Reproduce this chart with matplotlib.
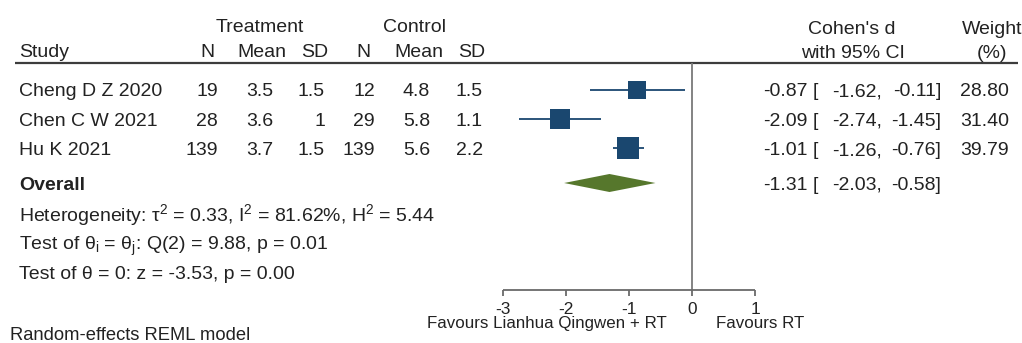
import numpy as np
import matplotlib
matplotlib.use("Agg")
import matplotlib.pyplot as plt
from matplotlib import transforms

# ---- study data ----
studies = ["Cheng D Z 2020", "Chen C W 2021", "Hu K 2021"]
trt_n = [19, 28, 139]
trt_mean = ["3.5", "3.6", "3.7"]
trt_sd = ["1.5", "1", "1.5"]
ctl_n = [12, 29, 139]
ctl_mean = ["4.8", "5.8", "5.6"]
ctl_sd = ["1.5", "1.1", "2.2"]
effect = [-0.87, -2.09, -1.01]
ci_low = [-1.62, -2.74, -1.26]
ci_high = [-0.11, -1.45, -0.76]
weight = [28.80, 31.40, 39.79]

overall_es = -1.31
overall_low = -2.03
overall_high = -0.58

x_ticks = [-3, -2, -1, 0, 1]

het_text = ("Heterogeneity: τ$\\mathregular{^2}$ = 0.33, I$\\mathregular{^2}$ = 81.62%, "
            "H$\\mathregular{^2}$ = 5.44")
q_text = "Test of θ$\\mathregular{_i}$ = θ$\\mathregular{_j}$: Q(2) = 9.88, p = 0.01"
z_text = "Test of θ = 0: z = -3.53, p = 0.00"
model_text = "Random-effects REML model"
fav_left = "Favours Lianhua Qingwen + RT"
fav_right = "Favours RT"

# ---- styling ----
plt.rcParams["font.family"] = ["Liberation Sans", "DejaVu Sans"]
plt.rcParams["mathtext.fontset"] = "custom"
plt.rcParams["mathtext.rm"] = "Liberation Sans"
NAVY = "#1a476f"
GREEN = "#56772c"
TXT = "#222222"
FS = 14.0

W, H = 1022, 343
fig = plt.figure(figsize=(W / 100, H / 100), dpi=100)
ax = fig.add_axes([0, 0, 1, 1])
ax.set_axis_off()

# effect-size scale: 0 sits at 692 px, 63 px per unit
X0, SCALE = 692.0, 63.0
ax.set_xlim((0 - X0) / SCALE, (W - X0) / SCALE)
ax.set_ylim(H, 0)  # y measured downward from the top edge

# x in figure pixels, y in axes data
tr = transforms.blended_transform_factory(
    transforms.Affine2D().scale(1.0 / W, 1.0) + fig.transFigure, ax.transData)

row_y = 89.5 + 29.3 * np.arange(len(studies))
overall_y = 183
header_line_y = 63
axis_y = 290
CAP_HALF = 7  # half the cap height of the body font, in pixels

def txt(px, y, s, ha="left", size=FS, **kw):
    # y is the vertical centre of the capitals; draw on the baseline below it
    ax.text(px, y + CAP_HALF * size / FS, s, transform=tr, ha=ha,
            va="baseline", fontsize=size, color=TXT, **kw)

# ---- header ----
txt(260, 25, "Treatment", ha="center")
txt(415, 25, "Control", ha="center")
txt(19, 50, "Study")
for px, s in [(207, "N"), (262, "Mean"), (315, "SD"),
              (363, "N"), (419, "Mean"), (472, "SD")]:
    txt(px, 50, s, ha="center")
txt(852, 27, "Cohen's d", ha="center")
txt(853, 51, "with 95% CI", ha="center")
txt(992, 27, "Weight", ha="center")
txt(992, 51, "(%)", ha="center")
ax.plot([15, 1018], [header_line_y, header_line_y], transform=tr,
        color="#3c3c3c", lw=1.6, solid_capstyle="butt")

# ---- null line and x axis ----
ax.vlines(0, header_line_y, axis_y, color="#7a7a7a", lw=1.3)
ax.hlines(axis_y, x_ticks[0], x_ticks[-1], color="#6a6a6a", lw=1.3)
ax.vlines(x_ticks, axis_y, axis_y + 6, color="#6a6a6a", lw=1.3)
for t in x_ticks:
    ax.text(t, 314.5, f"{t:g}", ha="center", va="baseline",
            fontsize=12.4, color=TXT)
txt(667, 321.5, fav_left, ha="right", size=12.2)
txt(716, 321.5, fav_right, ha="left", size=12.2)

# ---- study rows ----
for i, y in enumerate(row_y):
    txt(19, y, studies[i])
    txt(218, y, str(trt_n[i]), ha="right")
    txt(273, y, trt_mean[i], ha="right")
    txt(325, y, trt_sd[i], ha="right")
    txt(375, y, str(ctl_n[i]), ha="right")
    txt(430, y, ctl_mean[i], ha="right")
    txt(483, y, ctl_sd[i], ha="right")

    ax.hlines(y, ci_low[i], ci_high[i], color=NAVY, lw=1.3)
    side_pt = 3.49 * np.sqrt(weight[i]) * 0.72
    ax.scatter([effect[i]], [y], s=side_pt ** 2, marker="s", color=NAVY,
               linewidths=0, zorder=3)

    txt(808, y, f"{effect[i]:.2f}", ha="right")
    txt(813, y, "[")
    txt(882, y, f"{ci_low[i]:.2f},", ha="right")
    txt(941, y, f"{ci_high[i]:.2f}]", ha="right")
    txt(1009, y, f"{weight[i]:.2f}", ha="right")

# ---- overall ----
txt(19, overall_y, "Overall", fontweight="bold")
half_h = 9
ax.fill([overall_low, overall_es, overall_high, overall_es],
        [overall_y, overall_y - half_h, overall_y, overall_y + half_h],
        color=GREEN, lw=0, zorder=3)
txt(808, overall_y, f"{overall_es:.2f}", ha="right")
txt(813, overall_y, "[")
txt(882, overall_y, f"{overall_low:.2f},", ha="right")
txt(941, overall_y, f"{overall_high:.2f}]", ha="right")

# ---- statistics ----
txt(19, 214, het_text)
txt(19, 243, q_text)
txt(19, 272, z_text)
txt(10, 333, model_text, size=13.2)

fig.savefig("out.png", dpi=100, facecolor="white")
